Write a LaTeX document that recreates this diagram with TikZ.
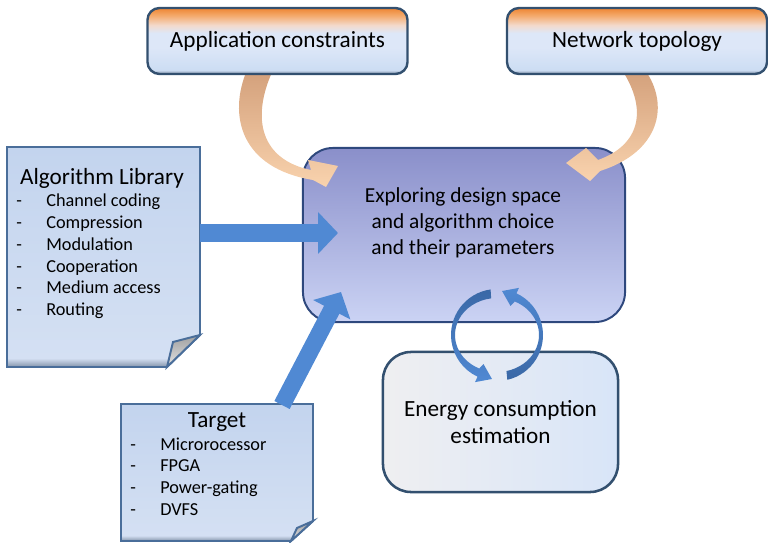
\documentclass[tikz,border=0pt]{standalone}
\usepackage{fontspec}
\setmainfont{Carlito}
\usetikzlibrary{positioning, calc, arrows.meta}

\definecolor{borda}{HTML}{33506F}
\definecolor{bordadoc}{HTML}{4A6E9A}
\definecolor{azulseta}{HTML}{5089D3}
\definecolor{azulescuro}{HTML}{3A68A6}
\definecolor{pessego}{HTML}{F9D3AE}
\definecolor{bronze}{HTML}{D3A07B}
\definecolor{lilas}{HTML}{8A8FCA}
\definecolor{lilasclaro}{HTML}{CBD3F4}
\definecolor{laranja}{HTML}{EE8532}
\definecolor{laranjaclaro}{HTML}{F4AC70}
\definecolor{rosado}{HTML}{F3DACB}
\definecolor{celeste}{HTML}{DDE7F8}
\definecolor{celeste2}{HTML}{CCDDF3}
\definecolor{sombra}{HTML}{8494AA}
\definecolor{folhatopo}{HTML}{C3D4EE}
\definecolor{folhabase}{HTML}{D4E0F3}
\definecolor{cinzaclaro}{HTML}{EFEFF1}
\definecolor{azulclaro}{HTML}{D8E5F8}

% fundo das caixas do topo (faixa laranja em cima)
\pgfdeclareverticalshading{tampa}{100bp}{color(0bp)=(sombra); color(25bp)=(sombra);
  color(28bp)=(celeste2); color(45bp)=(celeste); color(56bp)=(celeste);
  color(62bp)=(rosado); color(69bp)=(laranjaclaro); color(75bp)=(laranja);
  color(100bp)=(laranja)}
% fundo das folhas
\pgfdeclareverticalshading{folha}{100bp}{color(0bp)=(sombra); color(25bp)=(sombra);
  color(27bp)=(folhabase); color(75bp)=(folhatopo); color(100bp)=(folhatopo)}

\begin{document}
\begin{tikzpicture}[x=0.025cm, y=-0.025cm,
    caixatopo/.style={draw=borda, line width=1.7pt, rounded corners=0.3cm, shade, shading=tampa,
      minimum width=6.5cm, minimum height=1.65cm, font=\fontsize{16.5}{19.8}\selectfont},
    caixacentral/.style={draw=borda!90!blue, line width=1.4pt, rounded corners=0.75cm,
      top color=lilas, bottom color=lilasclaro, minimum width=8.05cm, minimum height=4.35cm},
    caixaenergia/.style={draw=borda, line width=1.8pt, rounded corners=0.7cm,
      left color=cinzaclaro, right color=azulclaro, minimum width=5.875cm, minimum height=3.5cm},
    folhadoc/.style={draw=bordadoc, line width=1.4pt, shade, shading=folha},
    dobra/.style={draw=bordadoc, line width=1.4pt, top color=gray!75, bottom color=gray!20},
    titulo/.style={font=\fontsize{16.5}{19.8}\selectfont, anchor=base},
    item/.style={font=\fontsize{13}{15.6}\selectfont, anchor=base west, inner sep=0pt},
    setaazul/.style={azulseta, line width=0.43cm, -{Triangle[width=1.02cm, length=0.5cm]}},
    setalaranja/.style={top color=bronze, bottom color=pessego}]

    \useasboundingbox (0,0) rectangle (768,543);

    % caixa central e estimativa de energia
    \node[caixacentral] (centro) at (464,235) {};
    \node[align=center, font=\fontsize{15.2}{18.3}\selectfont] (centrotxt) at (463,223)
      {Exploring design space\\and algorithm choice\\and their parameters};
    \node[caixaenergia, align=center, font=\fontsize{16.5}{19}\selectfont] (energia) at (500.5,422)
      {Energy consumption\\estimation};

    % folha: Algorithm Library
    \path[folhadoc] (7,147) -- (200,147) -- (200,335) -- (167,367) -- (7,367) -- cycle;
    \path[dobra] (200,335) -- (173,342) -- (167,367) -- cycle;
    \node[titulo] (algtit) at (102,185) {Algorithm Library};
    \foreach \txt [count=\i] in {Channel coding, Compression, Modulation, Cooperation, Medium access, Routing}
      \node[item] (alg\i) at (16,{207+21.7*(\i-1)}) {\makebox[0.75cm][l]{-}\txt};

    % folha: Target
    \path[folhadoc] (121,404) -- (313,404) -- (313,521) -- (291,541) -- (121,541) -- cycle;
    \path[dobra] (313,521) -- (297,528) -- (291,541) -- cycle;
    \node[titulo] (alvotit) at (217,427) {Target};
    \foreach \txt [count=\i] in {Microrocessor, FPGA, Power-gating, DVFS}
      \node[item] (alvo\i) at (130,{450+21.7*(\i-1)}) {\makebox[0.75cm][l]{-}\txt};

    % setas laranjas
    \shade[setalaranja] (247,70) .. controls (228,115) and (240,168) .. (313,180)
      -- (326,187) -- (338,166) -- (308,160) -- (311,170)
      .. controls (262,160) and (250,120) .. (273,70) -- cycle;
    \shade[setalaranja] (645,70) .. controls (670,105) and (660,152) .. (600,171)
      -- (590,181) -- (566,163) -- (586,148) -- (598,160)
      .. controls (640,145) and (648,110) .. (622,70) -- cycle;

    % caixas do topo
    \node[caixatopo] (app) at (277.5,41) {Application constraints};
    \node[caixatopo] (rede) at (637,41) {Network topology};

    % setas azuis grossas
    \coordinate (algsai) at (200,233);
    \coordinate (algentra) at (338,233);
    \coordinate (alvosai) at (282,405);
    \coordinate (alvoentra) at (341,292);
    \draw[setaazul] (algsai) -- (algentra);
    \draw[setaazul] (alvosai) -- (alvoentra);

    % ciclo entre as duas caixas
    \coordinate (ciclo) at (497,335);
    \shade[top color=azulescuro, bottom color=azulseta]
      ($(ciclo)+(262:46)$) arc[start angle=262, end angle=115, radius=46]
      -- ($(ciclo)+(115:52)$) -- ($(ciclo)+(115:42)+(25:14)$) -- ($(ciclo)+(115:32)$)
      -- ($(ciclo)+({42*cos(115)},{37*sin(115)})$)
      arc[start angle=115, end angle=262, x radius=42, y radius=37] -- cycle;
    \shade[top color=azulseta, bottom color=azulescuro]
      ($(ciclo)+(77:46)$) arc[start angle=77, end angle=-65, radius=46]
      -- ($(ciclo)+(-65:52)$) -- ($(ciclo)+(-65:42)+(-155:14)$) -- ($(ciclo)+(-65:32)$)
      -- ($(ciclo)+({42*cos(-65)},{37*sin(-65)})$)
      arc[start angle=-65, end angle=77, x radius=42, y radius=37] -- cycle;
\end{tikzpicture}
\end{document}
